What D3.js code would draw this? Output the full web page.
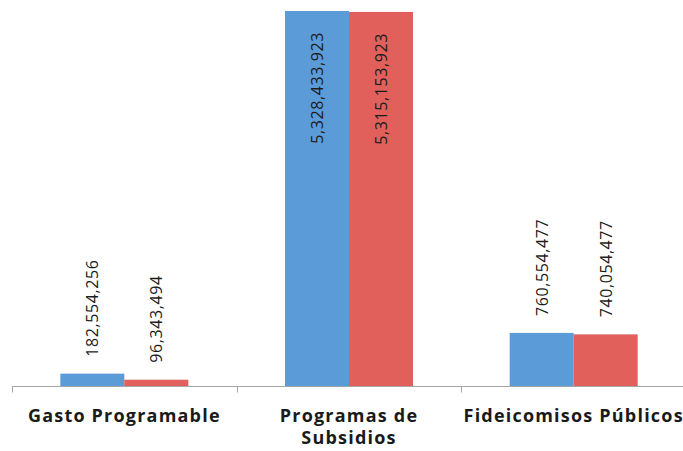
<!DOCTYPE html>
<html>
<head>
<meta charset="utf-8">
<script src="https://cdn.jsdelivr.net/npm/d3@7"></script>
<style>
  html, body { margin: 0; padding: 0; background: #ffffff; }
  svg { display: block; }
</style>
</head>
<body>
<svg id="chart" width="683" height="451"></svg>
<script>
// Budget categories and the two amounts shown for each
const categories = ["Gasto Programable", "Programas de Subsidios", "Fideicomisos Públicos"];
const seriesNames = ["A", "B"];
const seriesA = [182554256, 5328433923, 760554477];
const seriesB = [96343494, 5315153923, 740054477];
const seriesColors = ["#5b9bd8", "#e1605b"];

const baseY = 386.5, topY = 11;
const plotLeft = 12, plotRight = 686;

const svg = d3.select("#chart");

const rows = categories.map((c, i) => ({
  category: c,
  values: [seriesA[i], seriesB[i]]
}));

const x = d3.scaleBand().domain(categories).range([plotLeft, plotRight]).padding(0);
const groupW = 128;
const xs = d3.scaleBand().domain(seriesNames)
  .range([(x.bandwidth() - groupW) / 2, (x.bandwidth() + groupW) / 2]).padding(0);

const y = d3.scaleLinear()
  .domain([0, d3.max([...seriesA, ...seriesB])])
  .range([baseY, topY]);

const fmt = d3.format(",");

// Bars
const groups = svg.append("g").selectAll("g")
  .data(rows).join("g")
  .attr("transform", d => `translate(${x(d.category)},0)`);

groups.selectAll("rect")
  .data(d => d.values.map((v, j) => ({ key: seriesNames[j], value: v, color: seriesColors[j] })))
  .join("rect")
  .attr("x", d => xs(d.key))
  .attr("width", xs.bandwidth())
  .attr("y", d => y(d.value))
  .attr("height", d => baseY - y(d.value))
  .attr("fill", d => d.color);

// Rotated value labels: inside the top of tall bars, above short ones
const labelSize = 16, labelSpacing = 0.6;
const measureCtx = document.createElement("canvas").getContext("2d");
measureCtx.font = `${labelSize}px 'Open Sans', sans-serif`;

groups.selectAll("text.value")
  .data(d => d.values.map((v, j) => ({ key: seriesNames[j], value: v })))
  .join("text")
  .attr("class", "value")
  .each(function (d) {
    const t = fmt(d.value);
    const len = measureCtx.measureText(t).width + labelSpacing * t.length;
    const top = y(d.value);
    const h = baseY - top;
    const cx = xs(d.key) + xs.bandwidth() / 2;
    const inside = h > len + 40;
    const sel = d3.select(this)
      .text(t)
      .attr("font-family", "'Open Sans', sans-serif")
      .attr("font-size", labelSize)
      .attr("letter-spacing", labelSpacing)
      .attr("fill", "#1c1c1c")
      .attr("dominant-baseline", "central");
    if (inside) {
      sel.attr("text-anchor", "end")
        .attr("transform", `translate(${cx},${top + 21}) rotate(-90)`);
    } else {
      sel.attr("text-anchor", "start")
        .attr("transform", `translate(${cx},${top - 17}) rotate(-90)`);
    }
  });

// Category axis
const axisG = svg.append("g");
axisG.append("line")
  .attr("x1", plotLeft).attr("x2", plotRight)
  .attr("y1", baseY).attr("y2", baseY)
  .attr("stroke", "#a6a6a6").attr("stroke-width", 1);
const tickXs = categories.map(c => x(c)).concat([plotRight]);
axisG.selectAll("line.tick")
  .data(tickXs).join("line")
  .attr("class", "tick")
  .attr("x1", d => Math.round(d) + 0.5).attr("x2", d => Math.round(d) + 0.5)
  .attr("y1", baseY).attr("y2", baseY + 6)
  .attr("stroke", "#a6a6a6").attr("stroke-width", 1);

// Category names, wrapped to the band width
const catFontSize = 18, catSpacing = 1.2;
const catCtx = document.createElement("canvas").getContext("2d");
catCtx.font = `bold ${catFontSize}px 'Open Sans', sans-serif`;

function wrapLines(text, maxW) {
  const words = text.split(" ");
  const lines = [];
  let line = "";
  const width = s => catCtx.measureText(s).width + catSpacing * s.length;
  words.forEach(w => {
    const test = line ? line + " " + w : w;
    if (width(test) > maxW && line) {
      lines.push(line);
      line = w;
    } else {
      line = test;
    }
  });
  if (line) lines.push(line);
  return lines;
}

const catLabels = svg.append("g").selectAll("text")
  .data(categories).join("text")
  .attr("x", d => x(d) + x.bandwidth() / 2)
  .attr("y", 415)
  .attr("text-anchor", "middle")
  .attr("dominant-baseline", "central")
  .attr("font-family", "'Open Sans', sans-serif")
  .attr("font-weight", "bold")
  .attr("font-size", catFontSize)
  .attr("letter-spacing", catSpacing)
  .attr("fill", "#1a1a1a");

catLabels.each(function (d) {
  const lines = wrapLines(d, x.bandwidth() - 2);
  d3.select(this).selectAll("tspan")
    .data(lines).join("tspan")
    .attr("x", x(d) + x.bandwidth() / 2)
    .attr("dy", (l, i) => i === 0 ? 0 : 22)
    .text(l => l);
});
</script>
</body>
</html>
